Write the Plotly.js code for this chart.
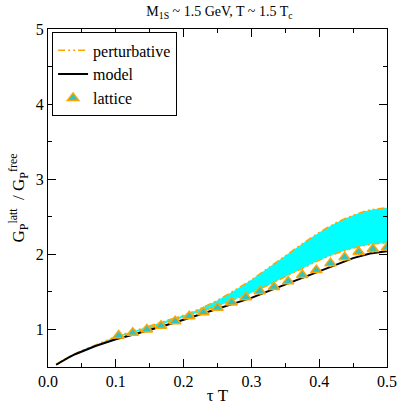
<!DOCTYPE html>
<html>
<head>
<meta charset="utf-8">
<script src="https://cdn.plot.ly/plotly-3.0.1.min.js"></script>
<style>
body{margin:0;padding:0;background:#fff;}
#plot{width:399px;height:405px;}
#plot text{font-family:"Liberation Serif","Times New Roman",Times,serif !important;}
</style>
</head>
<body>
<div id="plot"></div>
<script>
// lattice points, tau*T = k/48
var latT = [0.1042, 0.125, 0.1458, 0.1667, 0.1875, 0.2083, 0.2292, 0.25, 0.2708, 0.2917,
            0.3125, 0.3333, 0.3542, 0.375, 0.3958, 0.4167, 0.4375, 0.4583, 0.4792, 0.5];
var latG = [0.92, 0.955, 1.0, 1.05, 1.11, 1.175, 1.23, 1.29, 1.36, 1.43,
            1.51, 1.565, 1.64, 1.725, 1.79, 1.88, 1.96, 2.03, 2.07, 2.09];
var latErr = [0.03, 0.03, 0.03, 0.03, 0.035, 0.035, 0.035, 0.035, 0.04, 0.04,
              0.04, 0.04, 0.045, 0.045, 0.045, 0.05, 0.05, 0.05, 0.05, 0.05];

// model curve
var modT = [0.012, 0.02, 0.03, 0.04, 0.05, 0.06, 0.07, 0.08, 0.09, 0.1, 0.125, 0.15, 0.175,
            0.2, 0.225, 0.25, 0.275, 0.3, 0.325, 0.35, 0.375, 0.4, 0.425, 0.45, 0.475, 0.5];
var modG = [0.53, 0.575, 0.625, 0.67, 0.71, 0.75, 0.78, 0.81, 0.84, 0.87, 0.93, 0.99, 1.06,
            1.13, 1.2, 1.27, 1.34, 1.42, 1.51, 1.6, 1.69, 1.78, 1.87, 1.95, 2.01, 2.04];

// perturbative band
var pertT = [0.012, 0.02, 0.03, 0.05, 0.075, 0.1, 0.125, 0.15, 0.175, 0.2, 0.225, 0.25, 0.275,
             0.3, 0.325, 0.35, 0.375, 0.4, 0.425, 0.45, 0.475, 0.5];
var pertLo = [0.53, 0.575, 0.625, 0.715, 0.80, 0.89, 0.955, 1.02, 1.09, 1.16, 1.235, 1.31, 1.40,
              1.49, 1.59, 1.70, 1.81, 1.92, 2.01, 2.08, 2.13, 2.15];
var pertHi = [0.535, 0.58, 0.63, 0.72, 0.81, 0.905, 0.975, 1.045, 1.12, 1.19, 1.28, 1.39, 1.52,
              1.66, 1.82, 1.98, 2.14, 2.29, 2.42, 2.52, 2.59, 2.62];

var orange = "#ffa500";
var dashPat = "7px,3px,2px,3px,2px,3px";
var serif = "Liberation Serif, Times New Roman, serif";

var traces = [
  { x: pertT, y: pertLo, mode: "lines", line: { width: 0, color: "cyan", shape: "spline" },
    showlegend: false, hoverinfo: "skip" },
  { x: pertT, y: pertHi, mode: "lines", line: { width: 0, color: "cyan", shape: "spline" },
    fill: "tonexty", fillcolor: "#00ffff", showlegend: false, hoverinfo: "skip" },
  { x: pertT, y: pertLo, mode: "lines", line: { color: orange, width: 1.5, dash: dashPat, shape: "spline" },
    showlegend: false },
  { x: pertT, y: pertHi, mode: "lines", line: { color: orange, width: 1.5, dash: dashPat, shape: "spline" },
    name: "perturbative" },
  { x: modT, y: modG, mode: "lines", line: { color: "black", width: 2 },
    name: "model" },
  { x: latT, y: latG, mode: "markers", name: "lattice",
    marker: { symbol: "triangle-up", size: 10, color: "#2ec4c4", line: { color: orange, width: 1.5 } },
    error_y: { type: "data", array: latErr, color: orange, thickness: 1.5, width: 0 } }
];

var tickFont = { family: serif, size: 16, color: "black" };

var layout = {
  width: 399, height: 405,
  margin: { l: 48, r: 12, t: 29, b: 38 },
  paper_bgcolor: "white", plot_bgcolor: "white",
  font: { family: serif, color: "black" },
  title: { text: "M<sub>1S</sub> ~ 1.5 GeV, T ~ 1.5 T<sub>c</sub>",
           font: { family: serif, size: 14 }, x: 0.55, xanchor: "center", y: 0.985, yanchor: "top" },
  xaxis: {
    range: [0, 0.5], dtick: 0.1, tickformat: ".1f",
    showgrid: false, zeroline: false, showline: true, linecolor: "black", linewidth: 1,
    mirror: "allticks", ticks: "inside", ticklen: 8, tickcolor: "black",
    minor: { dtick: 0.05, ticks: "inside", ticklen: 4, tickcolor: "black" },
    tickfont: tickFont,
    title: { text: "τ T", font: { family: serif, size: 17 }, standoff: 2 }
  },
  yaxis: {
    range: [0.5, 5], dtick: 1,
    showgrid: false, zeroline: false, showline: true, linecolor: "black", linewidth: 1,
    mirror: "allticks", ticks: "inside", ticklen: 8, tickcolor: "black",
    minor: { dtick: 0.5, ticks: "inside", ticklen: 4, tickcolor: "black" },
    tickfont: tickFont,
    title: { text: "G<sub>P</sub><sup>latt</sup>  / G<sub>P</sub><sup>free</sup>",
             font: { family: serif, size: 17 }, standoff: 6 }
  },
  legend: {
    x: 0.012, y: 0.99, xanchor: "left", yanchor: "top", traceorder: "normal",
    bgcolor: "white", bordercolor: "black", borderwidth: 1,
    font: { family: serif, size: 16 }, tracegroupgap: 0
  },
  showlegend: true
};

Plotly.newPlot("plot", traces, layout, { displayModeBar: false, staticPlot: true });
</script>
</body>
</html>
